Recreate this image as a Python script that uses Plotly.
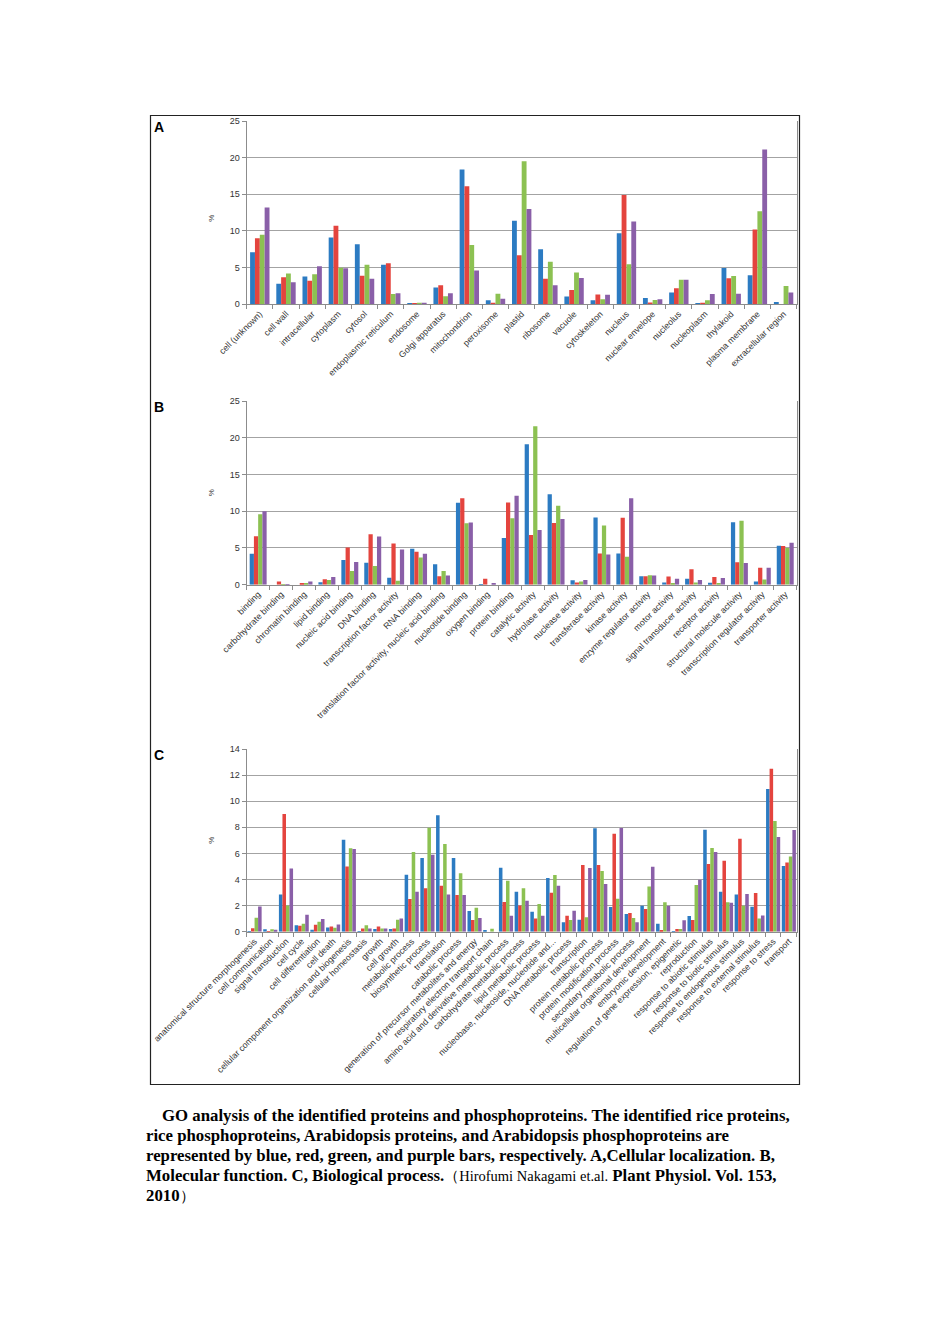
import plotly.graph_objects as go

# The page body has an 8px margin, so figure pixel = page pixel - 8
OFF = 8
W, H = 950 - 2 * OFF, 1344 - 2 * OFF
series_names = ["rice proteins", "rice phosphoproteins", "Arabidopsis proteins", "Arabidopsis phosphoproteins"]
colors = ["#2C7BC2", "#E4443E", "#8CC152", "#8A5FA8"]

# ---- Panel A: Cellular localization ----
cat_a = ["cell (unknown)", "cell wall", "intracellular", "cytoplasm", "cytosol",
         "endoplasmic reticulum", "endosome", "Golgi apparatus", "mitochondrion",
         "peroxisome", "plastid", "ribosome", "vacuole", "cytoskeleton", "nucleus",
         "nuclear envelope", "nucleolus", "nucleoplasm", "thylakoid",
         "plasma membrane", "extracellular region"]
a_blue = [7.1, 2.8, 3.8, 9.1, 8.2, 5.4, 0.1, 2.3, 18.4, 0.55, 11.4, 7.5, 1.05, 0.55, 9.7, 0.85, 1.6, 0.05, 4.95, 3.95, 0.3]
a_red = [9.0, 3.7, 3.2, 10.7, 3.9, 5.6, 0.05, 2.6, 16.1, 0.2, 6.7, 3.5, 1.95, 1.35, 14.9, 0.25, 2.2, 0.2, 3.55, 10.2, 0.0]
a_green = [9.5, 4.2, 4.1, 5.0, 5.4, 1.4, 0.2, 1.1, 8.1, 1.45, 19.5, 5.8, 4.35, 0.7, 5.45, 0.6, 3.35, 0.55, 3.85, 12.7, 2.5]
a_purple = [13.2, 3.0, 5.2, 4.9, 3.5, 1.5, 0.2, 1.5, 4.6, 0.75, 13.0, 2.6, 3.6, 1.3, 11.3, 0.7, 3.35, 1.4, 1.45, 21.1, 1.6]

# ---- Panel B: Molecular function ----
cat_b = ["binding", "carbohydrate binding", "chromatin binding", "lipid binding",
         "nucleic acid binding", "DNA binding", "transcription factor activity",
         "RNA binding", "translation factor activity, nucleic acid binding",
         "nucleotide binding", "oxygen binding", "protein binding", "catalytic activity",
         "hydrolase activity", "nuclease activity", "transferase activity",
         "kinase activity", "enzyme regulator activity", "motor activity",
         "signal transducer activity", "receptor activity",
         "structural molecule activity", "transcription regulator activity",
         "transporter activity"]
b_blue = [4.2, 0.0, 0.0, 0.35, 3.35, 3.0, 0.95, 4.9, 2.8, 11.15, 0.05, 6.35, 19.1, 12.3, 0.6, 9.15, 4.25, 1.15, 0.3, 0.8, 0.25, 8.5, 0.45, 5.3]
b_red = [6.6, 0.45, 0.2, 0.75, 5.05, 6.85, 5.6, 4.5, 1.15, 11.75, 0.8, 11.2, 6.75, 8.4, 0.3, 4.25, 9.1, 1.15, 1.1, 2.1, 1.05, 3.05, 2.3, 5.25]
b_green = [9.6, 0.05, 0.2, 0.65, 1.85, 2.55, 0.55, 3.7, 1.85, 8.35, 0.0, 9.05, 21.55, 10.75, 0.45, 8.05, 3.8, 1.3, 0.15, 0.3, 0.2, 8.7, 0.7, 5.0]
b_purple = [10.0, 0.05, 0.45, 1.05, 3.1, 6.55, 4.8, 4.2, 1.25, 8.45, 0.1, 12.1, 7.45, 8.95, 0.65, 4.1, 11.75, 1.25, 0.8, 0.65, 0.9, 2.95, 2.3, 5.7]

# ---- Panel C: Biological process ----
cat_c = ["anatomical structure morphogenesis", "cell communication", "signal transduction",
         "cell cycle", "cell differentiation", "cell death",
         "cellular component organization and biogenesis", "cellular homeostasis",
         "growth", "cell growth", "metabolic process", "biosynthetic process",
         "translation", "catabolic process",
         "generation of precursor metabolites and energy",
         "respiratory electron transport chain",
         "amino acid and derivative metabolic process",
         "carbohydrate metabolic process", "lipid metabolic process",
         "nucleobase, nucleoside, nucleotide and...", "DNA metabolic process",
         "transcription", "protein metabolic process", "protein modification process",
         "secondary metabolic process", "multicellular organismal development",
         "embryonic development", "regulation of gene expression, epigenetic",
         "reproduction", "response to abiotic stimulus", "response to biotic stimulus",
         "response to endogenous stimulus", "response to external stimulus",
         "response to stress", "transport"]
c_blue = [0.05, 0.18, 2.86, 0.49, 0.15, 0.33, 7.05, 0.05, 0.2, 0.2, 4.37, 5.65, 8.92, 5.65, 1.58, 0.13, 4.9, 3.07, 1.53, 4.11, 0.72, 0.92, 7.92, 1.89, 1.35, 1.99, 0.61, 0.05, 1.2, 7.82, 3.07, 2.86, 1.92, 10.93, 5.03]
c_red = [0.26, 0.05, 9.02, 0.45, 0.54, 0.4, 5.0, 0.25, 0.4, 0.25, 2.5, 3.32, 3.53, 2.81, 0.9, 0.0, 2.27, 2.0, 1.02, 2.99, 1.23, 5.11, 5.11, 7.51, 1.43, 1.74, 0.13, 0.2, 0.9, 5.19, 5.44, 7.13, 2.96, 12.49, 5.31]
c_green = [1.07, 0.18, 2.0, 0.6, 0.77, 0.3, 6.39, 0.5, 0.25, 0.92, 6.1, 7.97, 6.72, 4.47, 1.84, 0.23, 3.9, 3.32, 2.12, 4.34, 0.9, 1.1, 4.65, 2.53, 1.05, 3.47, 2.25, 0.2, 3.58, 6.41, 2.25, 1.99, 1.02, 8.48, 5.77]
c_purple = [1.94, 0.15, 4.85, 1.3, 0.97, 0.56, 6.34, 0.25, 0.25, 1.02, 3.07, 5.9, 2.86, 2.81, 1.05, 0.0, 1.23, 2.38, 1.23, 3.53, 1.61, 4.88, 3.65, 7.95, 0.72, 4.98, 1.97, 0.87, 3.99, 6.1, 2.22, 2.89, 1.25, 7.26, 7.79]

panels = [
    dict(cats=cat_a, vals=[a_blue, a_red, a_green, a_purple], ymax=25, dtick=5,
         top=121, bottom=304.3, letter="A", gw=0.74),
    dict(cats=cat_b, vals=[b_blue, b_red, b_green, b_purple], ymax=25, dtick=5,
         top=401, bottom=584.7, letter="B", gw=0.74),
    dict(cats=cat_c, vals=[c_blue, c_red, c_green, c_purple], ymax=14, dtick=2,
         top=749, bottom=931.7, letter="C", gw=0.9),
]


def px(x):
    return (x - OFF) / W


def py(y):
    return 1 - (y - OFF) / H


X0, X1 = 246.7, 796.7
fig = go.Figure()
layout = dict(width=W, height=H, margin=dict(l=0, r=0, t=0, b=0),
              paper_bgcolor="white", plot_bgcolor="white", template="none",
              showlegend=False, barmode="overlay",
              font=dict(family="Liberation Sans, Arial, sans-serif", color="#333333"))
annotations = []
shapes = []
grid = "#a3a3a3"
for i, p in enumerate(panels):
    sfx = "" if i == 0 else str(i + 1)
    bw = p["gw"] / 4
    for k in range(4):
        fig.add_trace(go.Bar(
            x=p["cats"], y=p["vals"][k], name=series_names[k],
            marker=dict(color=colors[k], line=dict(width=0)),
            width=bw, offset=-p["gw"] / 2 + k * bw,
            xaxis="x" + sfx, yaxis="y" + sfx, hoverinfo="x+y+name"))
    ydom = [py(p["bottom"]), py(p["top"])]
    layout["xaxis" + sfx] = dict(
        domain=[px(X0), px(X1)], anchor="y" + sfx, type="category",
        categoryorder="array", categoryarray=p["cats"],
        tickangle=-45, tickfont=dict(size=8.8, color="#333333"),
        showline=True, linecolor="#8c8c8c", linewidth=1.2, mirror=False,
        ticks="outside", tickson="boundaries", ticklen=4, tickcolor="#8c8c8c",
        showgrid=False, zeroline=False, automargin=False, fixedrange=True)
    layout["yaxis" + sfx] = dict(
        domain=ydom, anchor="x" + sfx, range=[0, p["ymax"]], dtick=p["dtick"],
        tick0=0, showgrid=True, gridcolor=grid, gridwidth=1.3,
        showline=True, linecolor="#8c8c8c", linewidth=1.2, mirror=True,
        ticks="outside", ticklen=4, tickcolor="#8c8c8c",
        tickfont=dict(size=9, color="#333333"), zeroline=False,
        automargin=False, fixedrange=True)
    ymid = (p["top"] + p["bottom"]) / 2
    annotations.append(dict(xref="paper", yref="paper", x=px(205), y=py(ymid),
                            text="%", showarrow=False, textangle=-90,
                            font=dict(size=8, color="#333333")))
    annotations.append(dict(xref="paper", yref="paper", x=px(152),
                            y=py(p["top"] - 4), text="<b>" + p["letter"] + "</b>",
                            showarrow=False, xanchor="left", yanchor="top",
                            font=dict(size=14, color="black",
                                      family="Liberation Sans, Arial, sans-serif")))

shapes.append(dict(type="rect", xref="paper", yref="paper",
                   x0=px(150.5), x1=px(799.5), y0=py(1084.5), y1=py(115.5),
                   line=dict(color="#222222", width=1.2)))

caption = [
    (160, 1115, "<b>GO analysis of the identified proteins and phosphoproteins. The identified rice proteins,</b>"),
    (144, 1135, "<b>rice phosphoproteins, Arabidopsis proteins, and Arabidopsis phosphoproteins are</b>"),
    (144, 1155, "<b>represented by blue, red, green, and purple bars, respectively. A,Cellular localization. B,</b>"),
    (144, 1175, "<b>Molecular function. C, Biological process.</b>"
                "<span style=\"font-size:14.5px\">（Hirofumi Nakagami et.al.</span>"
                " <b>Plant Physiol. Vol. 153,</b>"),
    (144, 1195, "<b>2010</b><span style=\"font-size:14.5px\">）</span>"),
]
for x, y, t in caption:
    annotations.append(dict(xref="paper", yref="paper", x=px(x), y=py(y),
                            text=t, showarrow=False, xanchor="left", yanchor="middle",
                            font=dict(size=16.8, color="black",
                                      family="Liberation Serif, Times New Roman, serif")))

layout["annotations"] = annotations
layout["shapes"] = shapes
fig.update_layout(**layout)
fig.write_html("out.html")
